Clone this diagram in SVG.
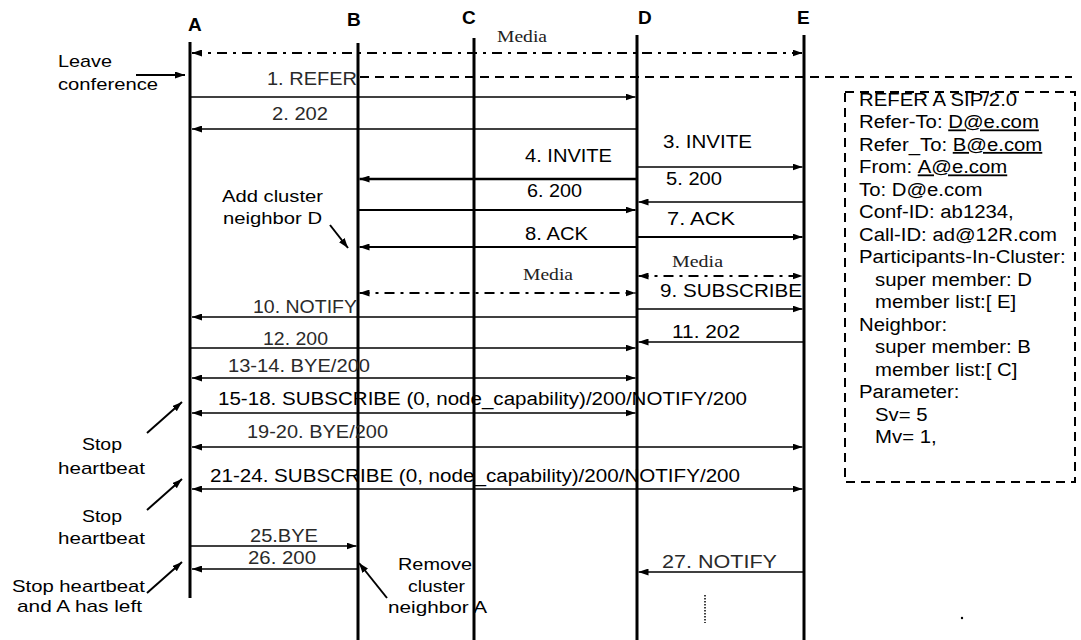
<svg xmlns="http://www.w3.org/2000/svg" width="1081" height="640" viewBox="0 0 1081 640">
<defs>
<marker id="ah" viewBox="0 0 10 7" refX="10" refY="3.5" markerUnits="userSpaceOnUse" markerWidth="10" markerHeight="7" orient="auto-start-reverse">
<path d="M0,0 L10,3.5 L0,7 z" fill="#000"/>
</marker>
<style>
.life{stroke:#000;stroke-width:3;fill:none}
.msg{stroke:#000;stroke-width:1.3;fill:none;marker-end:url(#ah)}
.msg2{stroke:#000;stroke-width:1.3;fill:none;marker-start:url(#ah);marker-end:url(#ah)}
.thick{stroke-width:2.4}
.media{stroke:#000;stroke-width:2.2;fill:none;stroke-dasharray:10 6 3 6;marker-start:url(#ah);marker-end:url(#ah)}
.note{stroke:#000;stroke-width:2;fill:none;marker-end:url(#ah)}
.dash{stroke:#000;stroke-width:2;fill:none;stroke-dasharray:9 6}
.lbl{font-family:"Liberation Sans",Arial,sans-serif;font-weight:bold;font-size:19px;fill:#000}
.t{font-family:"Liberation Sans",Arial,sans-serif;font-size:18px;fill:#000}
.thin{font-family:"Liberation Sans",Arial,sans-serif;font-size:18px;fill:#2a2a2a}
.ser{font-family:"Liberation Serif","Times New Roman",serif;font-size:16px;fill:#222}
.ann{font-family:"Liberation Sans",Arial,sans-serif;font-size:17px;fill:#000}
.box{font-family:"Liberation Sans",Arial,sans-serif;font-size:18px;fill:#000}
</style>
</defs>
<rect width="1081" height="640" fill="#fff"/>

<g id="node-A"><text class="lbl" x="188" y="31">A</text><line class="life" x1="190" y1="42" x2="190" y2="598"/></g>
<g id="node-B"><text class="lbl" x="347" y="26">B</text><line class="life" x1="358" y1="43" x2="358" y2="640"/></g>
<g id="node-C"><text class="lbl" x="462" y="24">C</text><line class="life" x1="474" y1="38" x2="474" y2="640"/></g>
<g id="node-D"><text class="lbl" x="638" y="24">D</text><line class="life" x1="637" y1="35" x2="637" y2="640"/></g>
<g id="node-E"><text class="lbl" x="797" y="24">E</text><line class="life" x1="804" y1="35" x2="804" y2="640"/></g>

<g id="connectors">
<line class="media" x1="192" y1="53" x2="802.5" y2="53"/>
<line class="dash" x1="360" y1="77" x2="1072" y2="77"/>
<line class="msg" x1="190" y1="97" x2="635.5" y2="97"/>
<line class="msg" x1="637" y1="129" x2="192" y2="129"/>
<line class="msg" x1="637" y1="167" x2="802.5" y2="167"/>
<line class="msg thick" x1="637" y1="179" x2="359.5" y2="179"/>
<line class="msg" x1="804" y1="202" x2="638.5" y2="202"/>
<line class="msg" style="stroke-width:2" x1="358" y1="210" x2="635.5" y2="210"/>
<line class="msg" style="stroke-width:2" x1="637" y1="237" x2="802.5" y2="237"/>
<line class="msg" style="stroke-width:2" x1="637" y1="247" x2="359.5" y2="247"/>
<line class="media" x1="638.5" y1="276" x2="802.5" y2="276"/>
<line class="media" x1="359.5" y1="293" x2="635.5" y2="293"/>
<line class="msg" x1="637" y1="309" x2="802.5" y2="309"/>
<line class="msg" x1="637" y1="317" x2="192" y2="317"/>
<line class="msg" x1="804" y1="342" x2="638.5" y2="342"/>
<line class="msg" x1="190" y1="348" x2="635.5" y2="348"/>
<line class="msg2" x1="192" y1="378" x2="635.5" y2="378"/>
<line class="msg2" x1="192" y1="413" x2="635.5" y2="413"/>
<line class="msg2" x1="192" y1="447" x2="802.5" y2="447"/>
<line class="msg2" x1="192" y1="489" x2="802.5" y2="489"/>
<line class="msg" x1="190" y1="546" x2="356.5" y2="546"/>
<line class="msg" x1="358" y1="569" x2="192" y2="569"/>
<line class="msg" x1="804" y1="572" x2="638.5" y2="572"/>
<line x1="705" y1="595" x2="705" y2="623" stroke="#000" stroke-width="1.5" stroke-dasharray="1.5 1.5"/>
</g>

<g id="labels">
<text class="ser" x="497" y="42" textLength="50" lengthAdjust="spacingAndGlyphs">Media</text>
<text class="thin" x="267" y="85" textLength="90" lengthAdjust="spacingAndGlyphs">1. REFER</text>
<text class="thin" x="272" y="120" textLength="56" lengthAdjust="spacingAndGlyphs">2. 202</text>
<text class="t" x="663" y="148" textLength="89" lengthAdjust="spacingAndGlyphs">3. INVITE</text>
<text class="t" x="525" y="162" textLength="87" lengthAdjust="spacingAndGlyphs">4. INVITE</text>
<text class="t" x="666" y="185" textLength="56" lengthAdjust="spacingAndGlyphs">5. 200</text>
<text class="t" x="527" y="197" textLength="55" lengthAdjust="spacingAndGlyphs">6. 200</text>
<text class="t" x="667" y="225" textLength="68" lengthAdjust="spacingAndGlyphs">7. ACK</text>
<text class="t" x="525" y="240" textLength="63" lengthAdjust="spacingAndGlyphs">8. ACK</text>
<text class="ser" x="672" y="267" textLength="51" lengthAdjust="spacingAndGlyphs">Media</text>
<text class="ser" x="523" y="280" textLength="50" lengthAdjust="spacingAndGlyphs">Media</text>
<text class="t" x="660" y="297" textLength="142" lengthAdjust="spacingAndGlyphs">9. SUBSCRIBE</text>
<text class="thin" x="253" y="313" textLength="104" lengthAdjust="spacingAndGlyphs">10. NOTIFY</text>
<text class="t" x="672" y="338" textLength="68" lengthAdjust="spacingAndGlyphs">11. 202</text>
<text class="thin" x="263" y="345" textLength="65" lengthAdjust="spacingAndGlyphs">12. 200</text>
<text class="thin" x="228" y="372" textLength="142" lengthAdjust="spacingAndGlyphs">13-14. BYE/200</text>
<text class="t" x="218" y="405" textLength="529" lengthAdjust="spacingAndGlyphs">15-18. SUBSCRIBE (0, node_capability)/200/NOTIFY/200</text>
<text class="thin" x="247" y="438" textLength="141" lengthAdjust="spacingAndGlyphs">19-20. BYE/200</text>
<text class="t" x="210" y="482" textLength="530" lengthAdjust="spacingAndGlyphs">21-24. SUBSCRIBE (0, node_capability)/200/NOTIFY/200</text>
<text class="thin" x="250" y="542" textLength="68" lengthAdjust="spacingAndGlyphs">25.BYE</text>
<text class="thin" x="248" y="564" textLength="68" lengthAdjust="spacingAndGlyphs">26. 200</text>
<text class="thin" x="662" y="568" textLength="115" lengthAdjust="spacingAndGlyphs">27. NOTIFY</text>
</g>

<g id="note-leave">
<text class="ann" x="58" y="67" textLength="54" lengthAdjust="spacingAndGlyphs">Leave</text>
<text class="ann" x="58" y="90" textLength="100" lengthAdjust="spacingAndGlyphs">conference</text>
<line class="note" x1="136" y1="75" x2="185" y2="75"/>
</g>
<g id="note-add">
<text class="ann" x="222" y="202" textLength="101" lengthAdjust="spacingAndGlyphs">Add cluster</text>
<text class="ann" x="223" y="224" textLength="99" lengthAdjust="spacingAndGlyphs">neighbor D</text>
<line class="note" x1="330" y1="225" x2="348" y2="248"/>
</g>
<g id="note-stop1">
<text class="ann" x="82" y="450" textLength="40" lengthAdjust="spacingAndGlyphs">Stop</text>
<text class="ann" x="58" y="474" textLength="87" lengthAdjust="spacingAndGlyphs">heartbeat</text>
<line class="note" x1="147" y1="433" x2="182" y2="402"/>
</g>
<g id="note-stop2">
<text class="ann" x="82" y="522" textLength="40" lengthAdjust="spacingAndGlyphs">Stop</text>
<text class="ann" x="58" y="544" textLength="87" lengthAdjust="spacingAndGlyphs">heartbeat</text>
<line class="note" x1="147" y1="510" x2="182" y2="479"/>
</g>
<g id="note-left">
<text class="ann" x="12" y="592" textLength="133" lengthAdjust="spacingAndGlyphs">Stop heartbeat</text>
<text class="ann" x="17" y="612" textLength="125" lengthAdjust="spacingAndGlyphs">and A has left</text>
<line class="note" x1="147" y1="593" x2="182" y2="562"/>
</g>
<g id="note-remove">
<text class="ann" x="398" y="570" textLength="74" lengthAdjust="spacingAndGlyphs">Remove</text>
<text class="ann" x="408" y="592" textLength="57" lengthAdjust="spacingAndGlyphs">cluster</text>
<text class="ann" x="388" y="613" textLength="99" lengthAdjust="spacingAndGlyphs">neighbor A</text>
<line class="note" x1="387" y1="598" x2="359" y2="563"/>
</g>

<g id="refer-box">
<rect x="845" y="92" width="230" height="390" class="dash"/>
<g transform="matrix(1.13 0 0 1 -111.67 0)" class="box">
<text x="859" y="106">REFER A SIP/2.0</text>
<text x="859" y="128.5">Refer-To: <tspan text-decoration="underline">D@e.com</tspan></text>
<text x="859" y="151">Refer_To: <tspan text-decoration="underline">B@e.com</tspan></text>
<text x="859" y="173.5">From: <tspan text-decoration="underline">A@e.com</tspan></text>
<text x="859" y="196">To: D@e.com</text>
<text x="859" y="218.5">Conf-ID: ab1234,</text>
<text x="859" y="241">Call-ID: ad@12R.com</text>
<text x="859" y="263.5">Participants-In-Cluster:</text>
<text x="873.2" y="286">super member: D</text>
<text x="873.2" y="308.5">member list:[ E]</text>
<text x="859" y="331">Neighbor:</text>
<text x="873.2" y="353.5">super member: B</text>
<text x="873.2" y="376">member list:[ C]</text>
<text x="859" y="398.5">Parameter:</text>
<text x="873.2" y="421">Sv= 5</text>
<text x="873.2" y="443.5">Mv= 1,</text>
</g>
</g>
<circle cx="962" cy="618" r="1.2" fill="#000"/>
</svg>
